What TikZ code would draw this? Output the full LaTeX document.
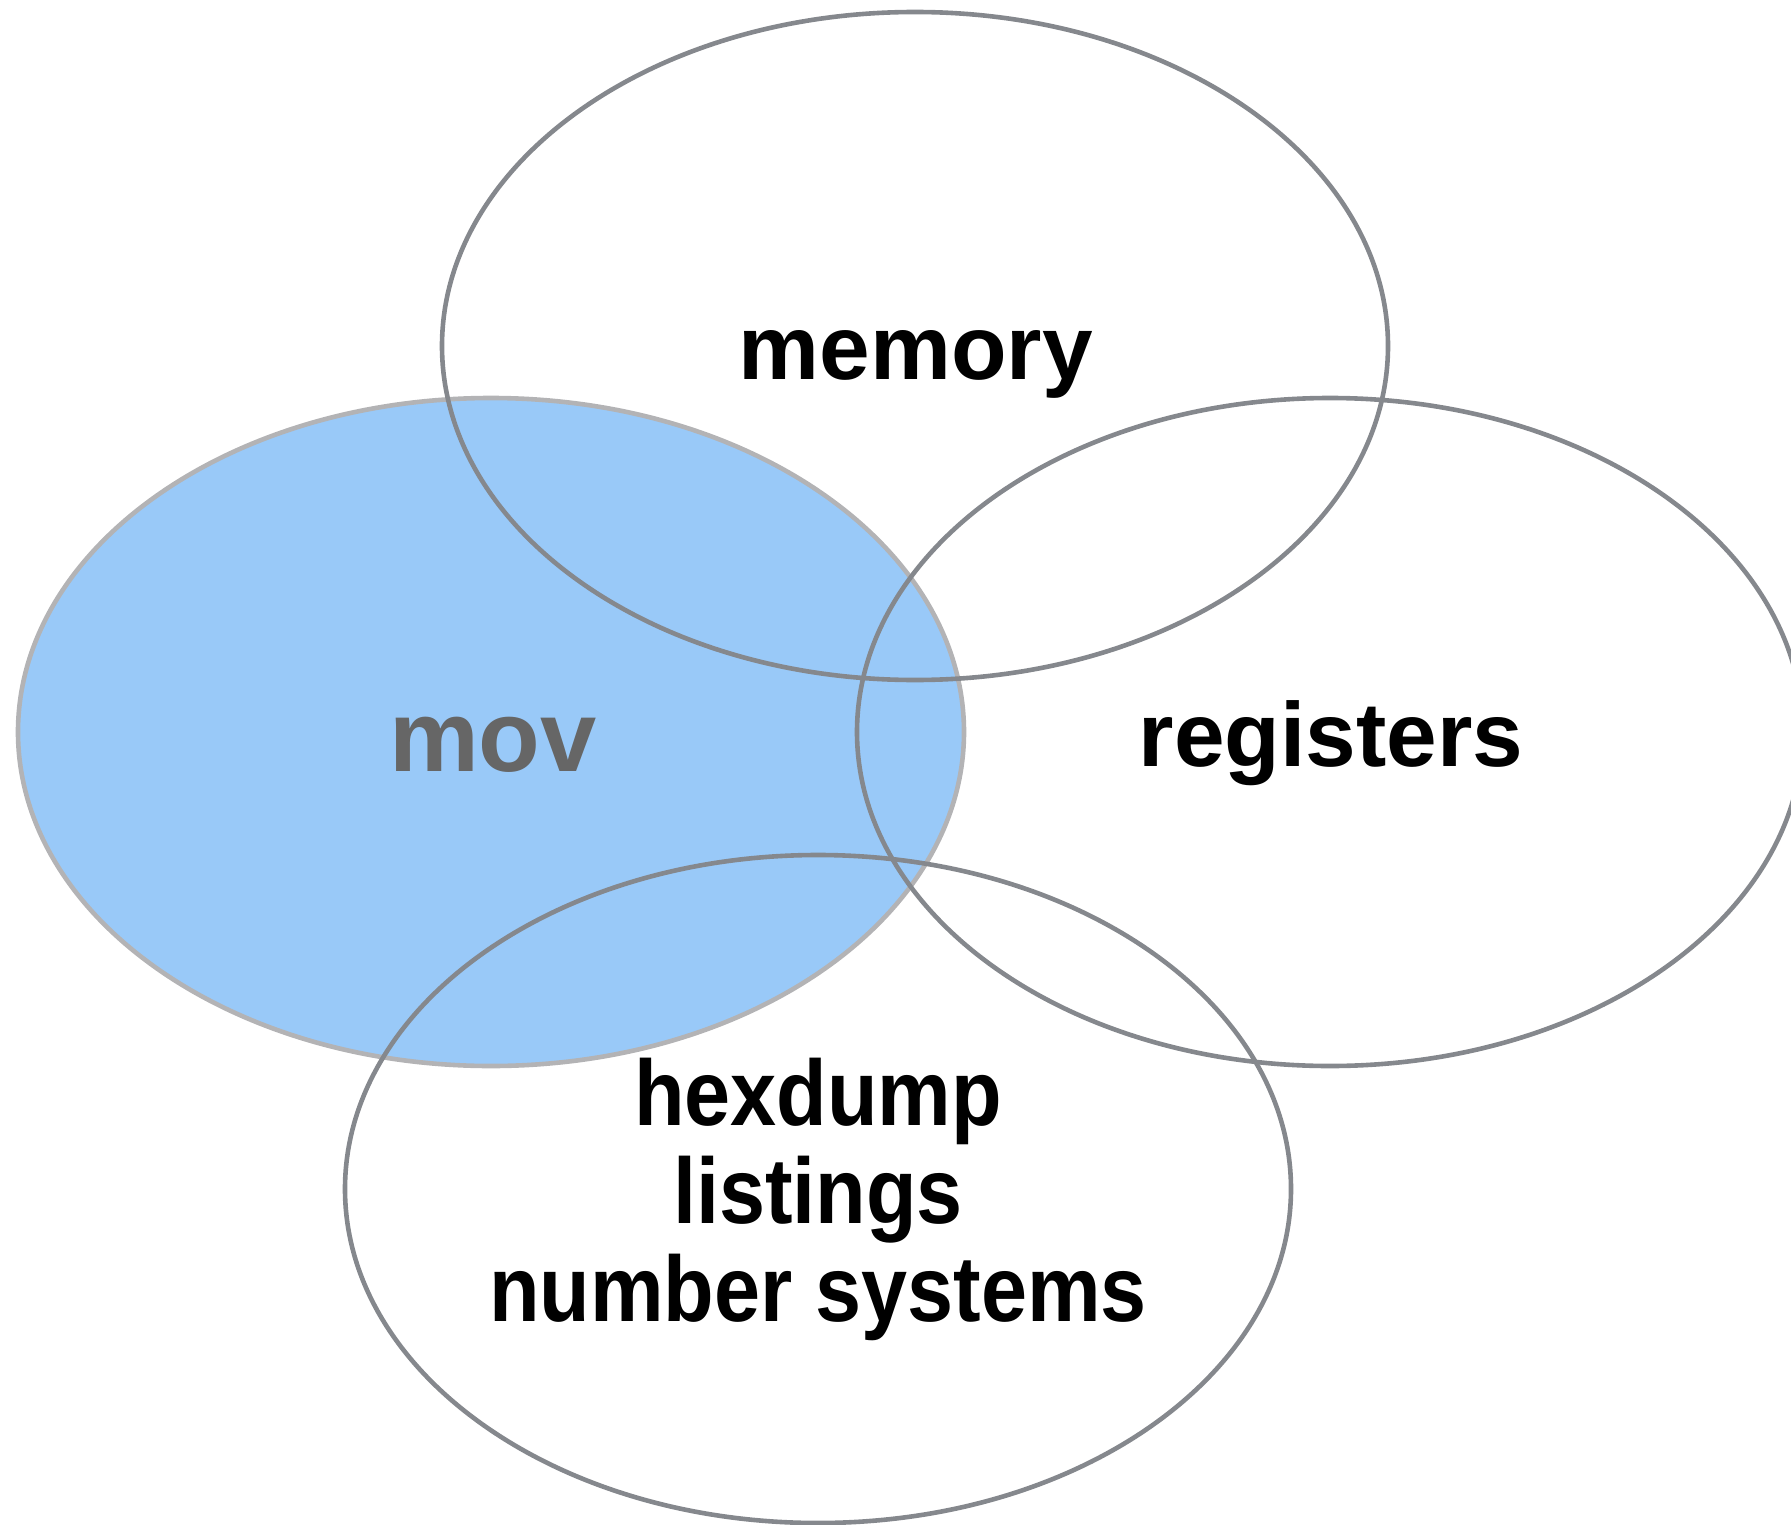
\documentclass[tikz,border=0pt]{standalone}
\usepackage{fontspec}
\setmainfont{Liberation Sans}
\newfontfamily\condfont{Liberation Sans}[FakeStretch=0.89]
\usetikzlibrary{shapes.geometric}
\definecolor{ringgray}{HTML}{85888D}
\definecolor{movedge}{HTML}{B3B3B5}
\definecolor{movfill}{HTML}{99C9F8}
\definecolor{movtext}{HTML}{666666}
\begin{document}
\begin{tikzpicture}[x=1pt,y=-1pt,
  ring/.style={ellipse, draw=ringgray, line width=4.6pt, inner sep=0pt,
    minimum width=946pt, minimum height=668pt},
  lbl/.style={anchor=base, inner sep=0pt, font=\bfseries\fontsize{91}{98}\selectfont}]
\useasboundingbox (0,0) rectangle (1791,1525);
\clip (0,0) rectangle (1791,1525);
\node[ring, draw=movedge, fill=movfill] (movring) at (491,732) {};
\node[ring] (memring) at (915,346) {};
\node[ring] (regring) at (1330,732) {};
\node[ring] (hexring) at (818,1189) {};
\node[lbl, text=movtext, font=\bfseries\fontsize{101}{110}\selectfont] (movtxt) at (493,771) {mov};
\node[lbl] (memtxt) at (916,379) {memory};
\node[lbl] (regtxt) at (1331,766) {registers};
\node[lbl, align=center, font=\condfont\bfseries\fontsize{93}{98}\selectfont] (hextxt) at (818,1321) {hexdump\\listings\\number systems};
\end{tikzpicture}
\end{document}
